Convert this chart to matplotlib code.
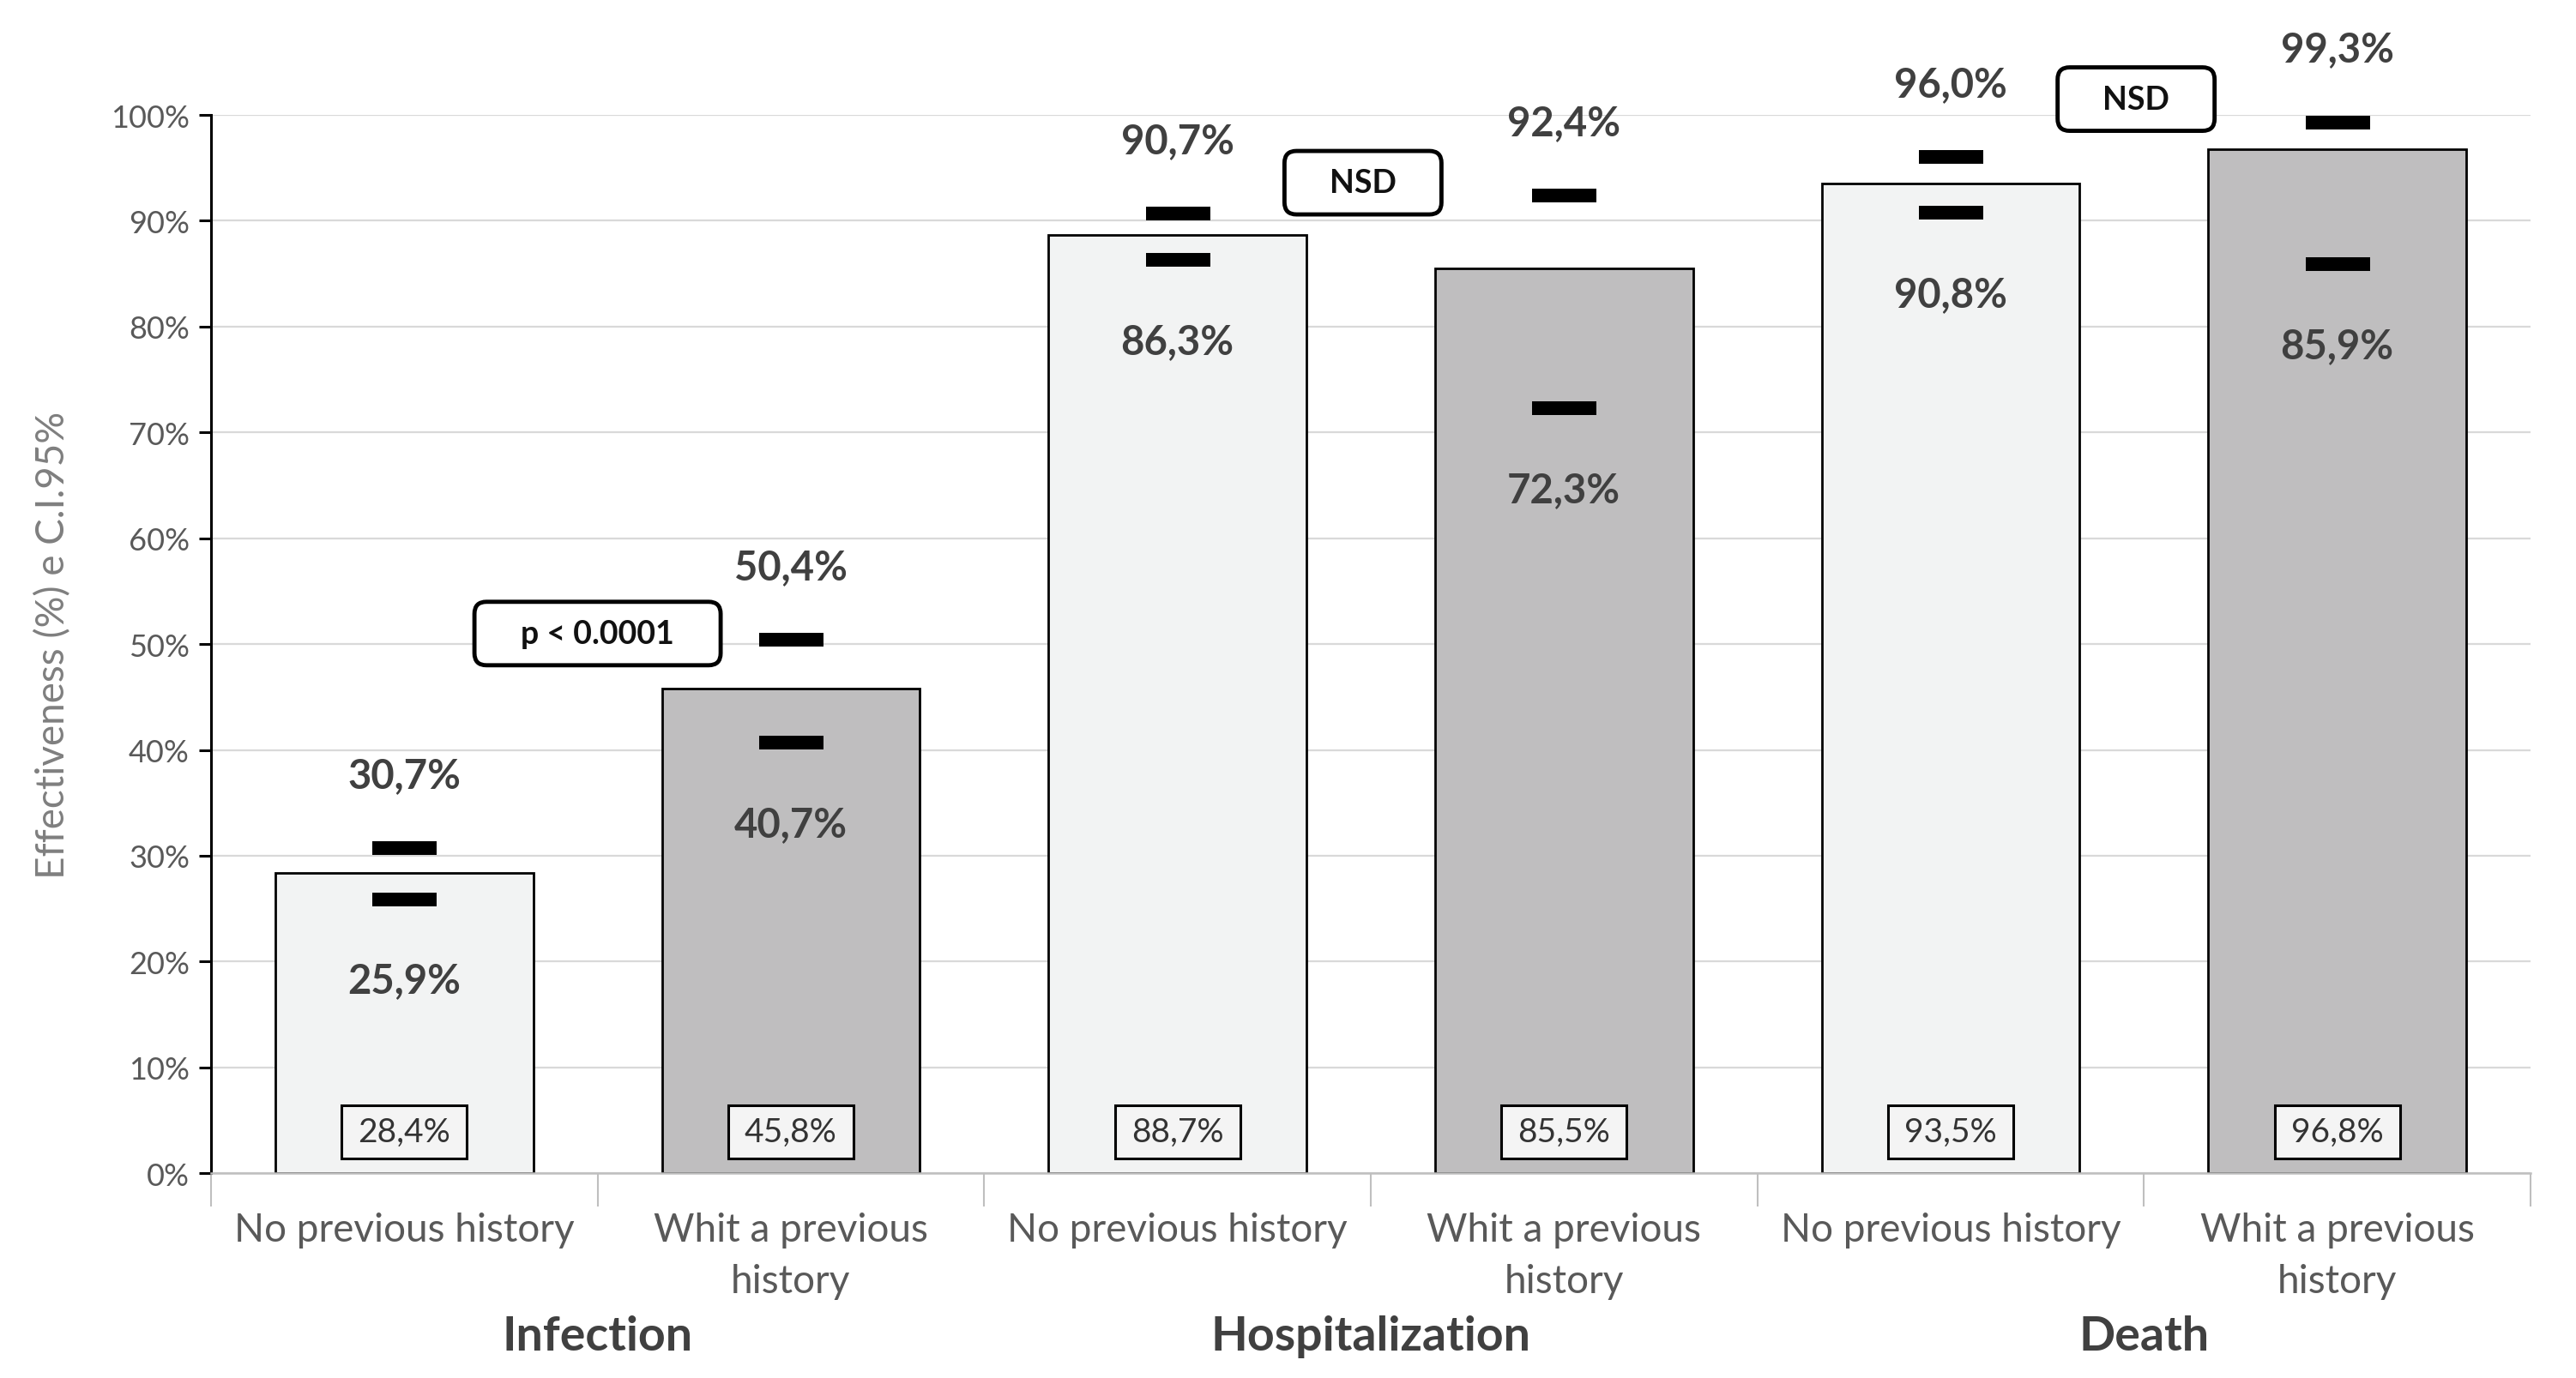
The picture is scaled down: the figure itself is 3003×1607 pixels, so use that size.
import numpy as np
import matplotlib
matplotlib.use('Agg')
import matplotlib.pyplot as plt
from matplotlib.patches import FancyBboxPatch, Rectangle
import matplotlib.transforms as mtransforms

plt.rcParams['font.family'] = ['Lato', 'DejaVu Sans']

# data
sub_labels = ['No previous history', 'Whit a previous\nhistory'] * 3
groups = ['Infection', 'Hospitalization', 'Death']
effect = [28.4, 45.8, 88.7, 85.5, 93.5, 96.8]
ci_low = [25.9, 40.7, 86.3, 72.3, 90.8, 85.9]
ci_high = [30.7, 50.4, 90.7, 92.4, 96.0, 99.3]
tests = ['p < 0.0001', 'NSD', 'NSD']
test_y = [51.0, 93.6, 101.5]

fmt = lambda v: ('%.1f%%' % v).replace('.', ',')

fig = plt.figure(figsize=(30.03, 16.08), dpi=100)
ax = fig.add_axes([0.0819, 0.1485, 0.9004, 0.7675])

x = np.arange(len(effect))
colors = ['#f2f3f3', '#bfbebf'] * 3
ax.bar(x, effect, width=0.667, color=colors, edgecolor='black', linewidth=2, zorder=2)

ax.set_xlim(-0.5, 5.5)
ax.set_ylim(0, 100)
ax.set_yticks(np.arange(0, 101, 10))
ax.set_yticklabels(['%d%%' % v for v in range(0, 101, 10)])
ax.yaxis.grid(True, color='#d9d9d9', linewidth=1.6, zorder=0)
ax.set_axisbelow(True)
for s in ['top', 'right']:
    ax.spines[s].set_visible(False)
ax.spines['left'].set_linewidth(2.2)
ax.spines['bottom'].set_color('#bfbfbf')
ax.spines['bottom'].set_linewidth(1.8)
ax.tick_params(axis='y', length=10, width=2.2, labelsize=26, labelcolor='#595959', pad=8)
ax.set_xticks(np.arange(-0.5, 6, 1))
ax.set_xticklabels([])
ax.tick_params(axis='x', length=28, width=1.5, color='#bfbfbf')

fig.text(0.0206, 0.1485 + 0.7675 / 2, 'Effectiveness (%) e C.I.95%', rotation=90,
         ha='center', va='center', fontsize=33, color='#7f7f7f')

# pixel size of one data unit
xpx = ax.get_position().width * fig.get_figwidth() * fig.dpi / 6.0
ypx = ax.get_position().height * fig.get_figheight() * fig.dpi / 100.0

# CI markers and labels
ax.plot(x, ci_low, ls='none', marker='_', ms=54, mew=11.5, color='black', zorder=3)
ax.plot(x, ci_high, ls='none', marker='_', ms=54, mew=11.5, color='black', zorder=3, clip_on=False)
for xi, lo, hi in zip(x, ci_low, ci_high):
    ax.text(xi, hi + 6.9, fmt(hi), ha='center', va='center', fontsize=34,
            fontweight='bold', color='#404040', clip_on=False)
    ax.text(xi, lo - 7.7, fmt(lo), ha='center', va='center', fontsize=34,
            fontweight='bold', color='#404040')

# value boxes at the bottom of the bars
bw, bh = 146 / xpx, 62 / ypx
for xi, v in zip(x, effect):
    ax.add_patch(Rectangle((xi - bw / 2, 3.9 - bh / 2), bw, bh, fc='#f4f4f4', ec='black',
                           lw=2.2, zorder=4))
    ax.text(xi, 3.9, fmt(v), ha='center', va='center', fontsize=28, color='#333333', zorder=5)

# significance boxes
widths = [287, 183, 183]
for k, (t, ty) in enumerate(zip(tests, test_y)):
    cx = 0.5 + 2 * k - 0.02 * (k > 0)
    w = widths[k] / xpx
    h = 74 / ypx
    r = 14 / xpx
    box = FancyBboxPatch((cx - w / 2 + r, ty - h / 2 + r * xpx / ypx), w - 2 * r,
                         h - 2 * r * xpx / ypx,
                         boxstyle='round,pad=%f,rounding_size=%f' % (r, r),
                         mutation_aspect=xpx / ypx, fc='white', ec='black', lw=3.5,
                         clip_on=False, zorder=5)
    ax.add_patch(box)
    ax.text(cx, ty, t, ha='center', va='center', fontsize=27, fontweight='bold',
            color='#111111', zorder=6, clip_on=False)

# category labels
trans = mtransforms.blended_transform_factory(ax.transData, ax.transAxes)
line_y = [-0.0534, -0.102]
for xi, lab in zip(x, sub_labels):
    for ln, txt in enumerate(lab.split('\n')):
        ax.text(xi, line_y[ln], txt, transform=trans, ha='center', va='center',
                fontsize=33, color='#595959')
for g, name in enumerate(groups):
    ax.text(2 * g + 0.5, -0.154, name, transform=trans, ha='center', va='center',
            fontsize=40, fontweight='bold', color='#404040')

fig.savefig('out.png', dpi=100, facecolor='white')
